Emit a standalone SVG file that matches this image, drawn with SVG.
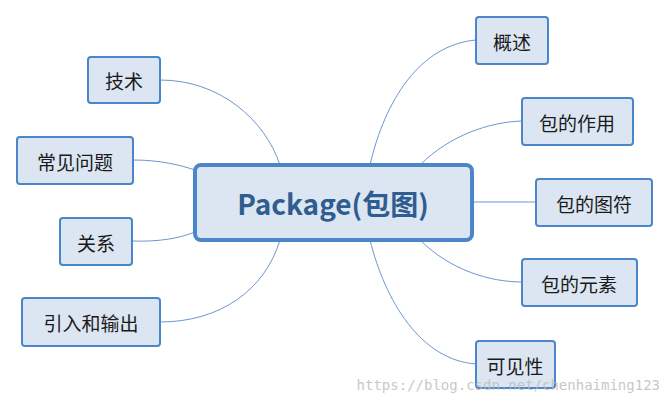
<svg xmlns="http://www.w3.org/2000/svg" width="670" height="405" viewBox="0 0 670 405">
<style>
.n rect{fill:#dce6f2;stroke:#4a86c8;stroke-width:2}
.n text{font-family:"Microsoft YaHei","Noto Sans CJK SC",sans-serif;font-size:19px;fill:#1a1a1a;text-anchor:middle;dominant-baseline:central}
#c path{fill:none;stroke:#6a98d0;stroke-width:1}
</style>
<rect width="670" height="405" fill="#fff"/>
<g id="c">
<path d="M370 165 C385 100 420 45 476 40"/>
<path d="M420 165 C450 135 490 122 522 121"/>
<path d="M472 202 L536 202"/>
<path d="M420 240 C450 270 490 282 522 282"/>
<path d="M370 240 C385 300 420 360 476 364"/>
<path d="M280 165 C265 120 220 80 160 80"/>
<path d="M195 170 C180 165 160 160 133 160"/>
<path d="M195 232 C180 238 160 242 132 241"/>
<path d="M280 240 C265 290 220 322 160 322"/>
</g>
<g id="center" class="n"><rect x="195" y="165" width="277" height="75" rx="6" style="stroke-width:4"/><text x="333" y="203" style="font-size:28px;font-weight:bold;fill:#2f5d8f">Package(包图)</text></g>
<g id="n1" class="n"><rect x="476" y="17" width="72" height="47" rx="3"/><text x="512" y="41">概述</text></g>
<g id="n2" class="n"><rect x="522" y="98" width="111" height="47" rx="3"/><text x="577" y="122">包的作用</text></g>
<g id="n3" class="n"><rect x="536" y="179" width="116" height="47" rx="3"/><text x="594" y="203">包的图符</text></g>
<g id="n4" class="n"><rect x="522" y="259" width="115" height="47" rx="3"/><text x="579" y="283">包的元素</text></g>
<g id="n5" class="n"><rect x="476" y="341" width="79" height="47" rx="3"/><text x="515" y="365">可见性</text></g>
<g id="n6" class="n"><rect x="88" y="57" width="72" height="46" rx="3"/><text x="124" y="80">技术</text></g>
<g id="n7" class="n"><rect x="17" y="137" width="116" height="47" rx="3"/><text x="75" y="161">常见问题</text></g>
<g id="n8" class="n"><rect x="60" y="218" width="72" height="47" rx="3"/><text x="96" y="242">关系</text></g>
<g id="n9" class="n"><rect x="22" y="298" width="138" height="48" rx="3"/><text x="91" y="322">引入和输出</text></g>
<text x="660" y="390" text-anchor="end" style="font-family:'DejaVu Sans Mono',monospace;font-size:14px;fill:#bbb;opacity:0.8">https://blog.csdn.net/chenhaiming123</text>
</svg>
